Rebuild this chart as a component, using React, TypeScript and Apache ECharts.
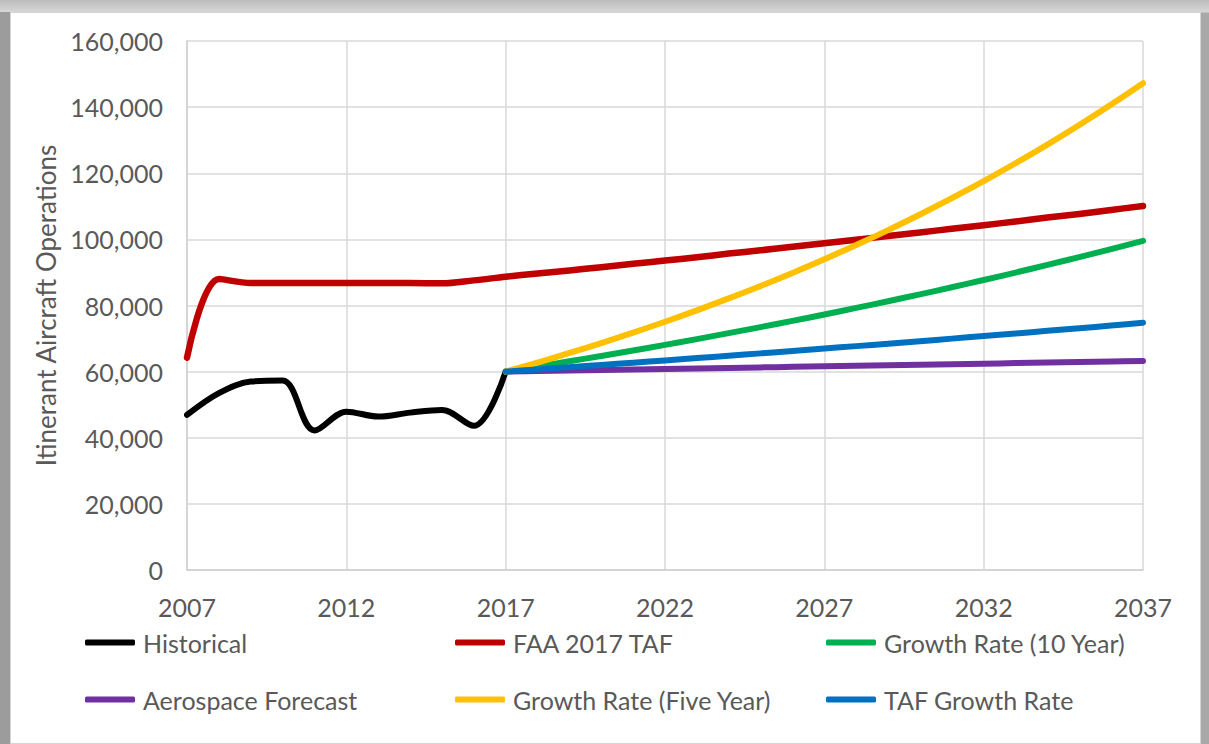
import React, { useEffect, useRef } from "react";
import * as echarts from "echarts";

const years = [
  "2007","2008","2009","2010","2011","2012","2013","2014","2015","2016","2017",
  "2018","2019","2020","2021","2022","2023","2024","2025","2026","2027",
  "2028","2029","2030","2031","2032","2033","2034","2035","2036","2037",
];

const historical = [46900, 53500, 57000, 57300, 42200, 47900, 46400, 47600, 48400, 43600, 60000];

const faaTaf = [
  64200, 88000, 86800, 86800, 86800, 86800, 86800, 86800, 86700, 87600, 88700,
  89700, 90600, 91600, 92600, 93600, 94600, 95700, 96700, 97800, 98800,
  99900, 101000, 102100, 103200, 104300, 105400, 106600, 107700, 108900, 110100,
];

const growth10 = [
  60000, 61540, 63120, 64730, 66390, 68100, 69840, 71630, 73470, 75350, 77290,
  79270, 81300, 83380, 85520, 87710, 89960, 92270, 94640, 97060, 99550,
];

const aerospace = [
  60000, 60160, 60320, 60480, 60630, 60790, 60950, 61110, 61280, 61440, 61600,
  61760, 61920, 62090, 62250, 62410, 62580, 62740, 62910, 63070, 63240,
];

const growth5 = [
  60000, 62750, 65640, 68650, 71800, 75090, 78540, 82150, 85920, 89860, 93990,
  98300, 102810, 107530, 112470, 117630, 123030, 128680, 134580, 140760, 147220,
];

const tafGrowth = [
  60000, 60660, 61330, 62010, 62700, 63390, 64090, 64800, 65520, 66240, 66970,
  67710, 68460, 69220, 69980, 70750, 71540, 72330, 73130, 73930, 74750,
];

const yTicks = { min: 0, max: 160000, interval: 20000 };

const pad = (arr: number[], before: number, total: number) => {
  const out: (number | null)[] = [];
  for (let i = 0; i < before; i++) out.push(null);
  for (const v of arr) out.push(v);
  while (out.length < total) out.push(null);
  return out;
};

const FONT = "Lato";
const TXT = "#595959";

export default function App() {
  const ref = useRef<HTMLDivElement>(null);

  useEffect(() => {
    document.body.style.margin = "0";
    if (!ref.current) return;
    const chart = echarts.init(ref.current, undefined, { renderer: "svg" });
    const n = years.length;
    const start = years.indexOf("2017");

    const mk = (name: string, color: string, data: (number | null)[], width = 6) => ({
      name,
      type: "line",
      data,
      smooth: 0.35,
      showSymbol: false,
      symbol: "none",
      connectNulls: false,
      lineStyle: { color, width, cap: "round", join: "round" },
      itemStyle: { color },
    });

    const legendItem = (name: string, left: number, top: number) => ({
      data: [name],
      left,
      top,
      orient: "horizontal",
      icon: "roundRect",
      itemWidth: 50,
      itemHeight: 6,
      padding: 0,
      textStyle: { fontFamily: FONT, fontSize: 25, color: TXT, padding: [0, 0, 0, 3] },
    });

    chart.setOption({
      animation: false,
      backgroundColor: "transparent",
      grid: { left: 187, right: 66, top: 41, bottom: 174, containLabel: false },
      xAxis: {
        type: "category",
        data: years,
        boundaryGap: false,
        axisLine: { show: true, lineStyle: { color: "#d0d0d0", width: 1.5 } },
        axisTick: { show: false },
        axisLabel: {
          interval: 4,
          margin: 24,
          color: TXT,
          fontFamily: FONT,
          fontSize: 25,
        },
        splitLine: {
          show: true,
          interval: 4,
          lineStyle: { color: "#d9d9d9", width: 1.5 },
        },
      },
      yAxis: {
        type: "value",
        min: yTicks.min,
        max: yTicks.max,
        interval: yTicks.interval,
        name: "Itinerant Aircraft Operations",
        nameLocation: "middle",
        nameGap: 128,
        nameTextStyle: { fontFamily: FONT, fontSize: 26, color: TXT },
        axisLine: { show: true, lineStyle: { color: "#d0d0d0", width: 1.5 } },
        axisTick: { show: false },
        axisLabel: {
          margin: 24,
          color: TXT,
          fontFamily: FONT,
          fontSize: 25,
          formatter: (v: number) => v.toLocaleString("en-US"),
        },
        splitLine: { show: true, lineStyle: { color: "#d9d9d9", width: 1.5 } },
      },
      legend: [
        legendItem("Historical", 85, 630),
        legendItem("FAA 2017 TAF", 455, 630),
        legendItem("Growth Rate (10 Year)", 826, 630),
        legendItem("Aerospace Forecast", 85, 687),
        legendItem("Growth Rate (Five Year)", 455, 687),
        legendItem("TAF Growth Rate", 826, 687),
      ],
      series: [
        mk("Historical", "#000000", pad(historical, 0, n), 6),
        mk("FAA 2017 TAF", "#C00000", faaTaf, 6.5),
        mk("Growth Rate (10 Year)", "#00B050", pad(growth10, start, n), 6),
        mk("Aerospace Forecast", "#7030A0", pad(aerospace, start, n), 6),
        mk("Growth Rate (Five Year)", "#FFC000", pad(growth5, start, n), 6),
        mk("TAF Growth Rate", "#0070C0", pad(tafGrowth, start, n), 6),
      ],
    });

    return () => chart.dispose();
  }, []);

  return (
    <div
      style={{
        position: "relative",
        width: 1209,
        height: 744,
        background: "linear-gradient(to bottom, #bdbdbd 0px, #d6d6d6 12px, #a8a8a8 13px)",
        overflow: "hidden",
      }}
    >
      <div
        style={{
          position: "absolute",
          left: 0,
          top: 12,
          width: 10,
          height: 732,
          background: "#9c9c9c",
        }}
      />
      <div
        style={{
          position: "absolute",
          left: 10,
          top: 12,
          width: 1189,
          height: 730,
          background: "#ffffff",
          border: "1px solid #d4d4d4",
        }}
      />
      <div
        ref={ref}
        style={{ position: "absolute", left: 0, top: 0, width: 1209, height: 744 }}
      />
    </div>
  );
}
